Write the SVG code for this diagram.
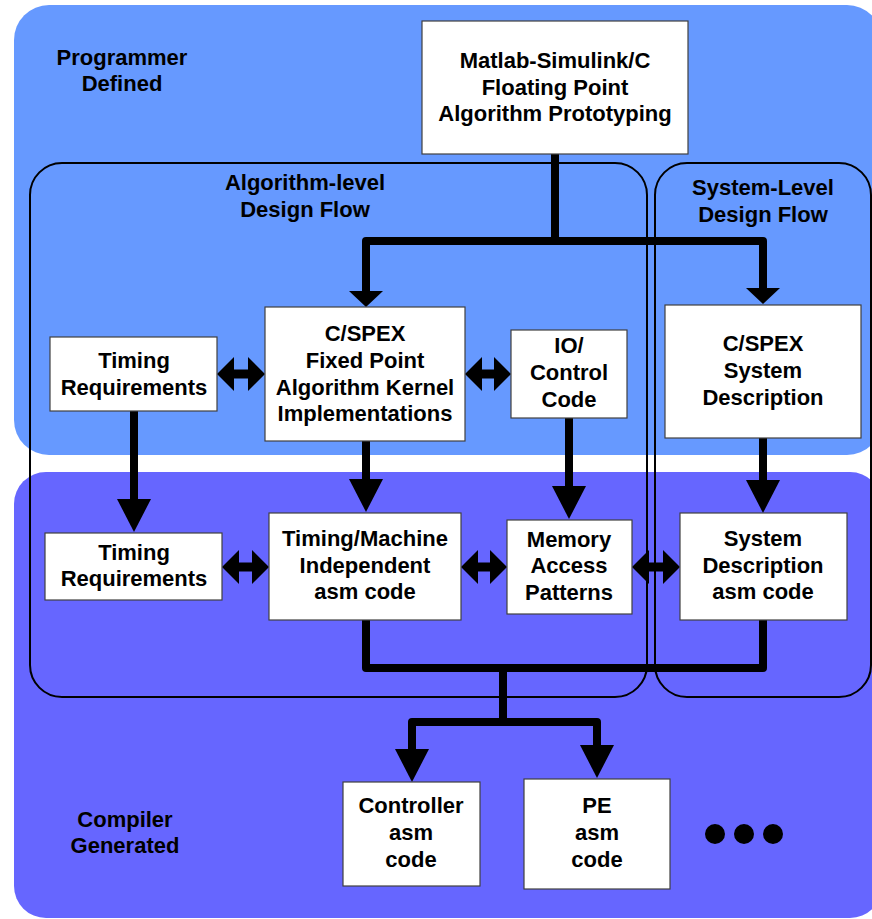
<svg xmlns="http://www.w3.org/2000/svg" width="872" height="919" viewBox="0 0 872 919">
<defs>
<style>
text{font-family:"Liberation Sans",Arial,sans-serif;font-weight:bold;font-size:22px;fill:#000;text-anchor:middle}
.box{fill:#fff;stroke:#404040;stroke-width:1.2}
.cont{fill:none;stroke:#000;stroke-width:2}
.ln{fill:none;stroke:#000;stroke-width:8;stroke-linecap:round;stroke-linejoin:round}
.dbl{fill:#000}
</style>
<marker id="ah" viewBox="0 0 33 34" refX="0" refY="17" markerUnits="userSpaceOnUse" markerWidth="33" markerHeight="34" orient="auto"><path d="M0,0 L33,17 L0,34 z" fill="#000"/></marker>
<marker id="ahf" viewBox="0 0 16 34" refX="0" refY="17" markerUnits="userSpaceOnUse" markerWidth="16" markerHeight="34" orient="auto"><path d="M0,0 L16,17 L0,34 z" fill="#000"/></marker>
</defs>
<rect width="872" height="919" fill="#fff"/>
<g id="regions">
<rect x="14" y="5" width="868" height="450" rx="35" fill="#6699FF"/>
<rect x="14" y="472" width="868" height="446" rx="32" fill="#6666FF"/>
<text x="122" y="65">Programmer</text>
<text x="122" y="91">Defined</text>
<text x="125" y="827">Compiler</text>
<text x="125" y="853">Generated</text>
</g>
<g id="algorithm-level">
<rect class="cont" x="30" y="163" width="617" height="534" rx="32"/>
<text x="305" y="190">Algorithm-level</text>
<text x="305" y="217">Design Flow</text>
</g>
<g id="system-level">
<rect class="cont" x="655" y="163" width="216" height="534" rx="32"/>
<text x="763" y="195">System-Level</text>
<text x="763" y="222">Design Flow</text>
</g>
<g id="connectors">
<path class="ln" d="M555,154 V241 H366 V291" marker-end="url(#ahf)"/>
<path class="ln" d="M555,154 V241 H763 V288" marker-end="url(#ahf)"/>
<path class="ln" d="M134,411 V499" marker-end="url(#ah)"/>
<path class="ln" d="M366,441 V479" marker-end="url(#ah)"/>
<path class="ln" d="M569,418 V486" marker-end="url(#ah)"/>
<path class="ln" d="M763,438 V480" marker-end="url(#ah)"/>
<path class="ln" d="M366,620 V668 H763 V620"/>
<path class="ln" d="M503,668 V722"/>
<path class="ln" d="M503,722 H412 V749" marker-end="url(#ah)"/>
<path class="ln" d="M503,722 H597 V745" marker-end="url(#ah)"/>
<polygon class="dbl" points="217,374 234,357 234,369.5 248,369.5 248,357 265,374 248,391 248,378.5 234,378.5 234,391"/>
<polygon class="dbl" points="465,374 482,357 482,369.5 494,369.5 494,357 511,374 494,391 494,378.5 482,378.5 482,391"/>
<polygon class="dbl" points="222,567 239,550 239,562.5 252,562.5 252,550 269,567 252,584 252,571.5 239,571.5 239,584"/>
<polygon class="dbl" points="461,567 478,550 478,562.5 490,562.5 490,550 507,567 490,584 490,571.5 478,571.5 478,584"/>
<polygon class="dbl" points="632,567 649,550 649,562.5 663,562.5 663,550 680,567 663,584 663,571.5 649,571.5 649,584"/>
</g>
<g id="matlab">
<rect class="box" x="422" y="21" width="266" height="133"/>
<text x="555" y="68">Matlab-Simulink/C</text>
<text x="555" y="94.5">Floating Point</text>
<text x="555" y="121">Algorithm Prototyping</text>
</g>
<g id="timing-req-1">
<rect class="box" x="50" y="337" width="167" height="74"/>
<text x="134" y="368">Timing</text>
<text x="134" y="395">Requirements</text>
</g>
<g id="cspex-fixed">
<rect class="box" x="265" y="307" width="200" height="134"/>
<text x="365" y="341">C/SPEX</text>
<text x="365" y="368">Fixed Point</text>
<text x="365" y="394.5">Algorithm Kernel</text>
<text x="365" y="421">Implementations</text>
</g>
<g id="io-control">
<rect class="box" x="511" y="330" width="116" height="88"/>
<text x="569" y="353">IO/</text>
<text x="569" y="380">Control</text>
<text x="569" y="407">Code</text>
</g>
<g id="cspex-system">
<rect class="box" x="665" y="305" width="196" height="133"/>
<text x="763" y="351">C/SPEX</text>
<text x="763" y="378">System</text>
<text x="763" y="405">Description</text>
</g>
<g id="timing-req-2">
<rect class="box" x="45" y="533" width="177" height="67"/>
<text x="134" y="560">Timing</text>
<text x="134" y="586">Requirements</text>
</g>
<g id="timing-machine">
<rect class="box" x="269" y="513" width="192" height="107"/>
<text x="365" y="546">Timing/Machine</text>
<text x="365" y="573">Independent</text>
<text x="365" y="599">asm code</text>
</g>
<g id="memory-access">
<rect class="box" x="507" y="520" width="125" height="94"/>
<text x="569" y="547">Memory</text>
<text x="569" y="573">Access</text>
<text x="569" y="600">Patterns</text>
</g>
<g id="system-asm">
<rect class="box" x="680" y="513" width="167" height="107"/>
<text x="763" y="546">System</text>
<text x="763" y="573">Description</text>
<text x="763" y="599">asm code</text>
</g>
<g id="controller-asm">
<rect class="box" x="343" y="782" width="137" height="104"/>
<text x="411" y="813">Controller</text>
<text x="411" y="840">asm</text>
<text x="411" y="867">code</text>
</g>
<g id="pe-asm">
<rect class="box" x="524" y="779" width="146" height="110"/>
<text x="597" y="813">PE</text>
<text x="597" y="840">asm</text>
<text x="597" y="867">code</text>
</g>
<g id="ellipsis">
<circle cx="715" cy="834" r="10" fill="#000"/>
<circle cx="744" cy="834" r="10" fill="#000"/>
<circle cx="773" cy="834" r="10" fill="#000"/>
</g>
</svg>
